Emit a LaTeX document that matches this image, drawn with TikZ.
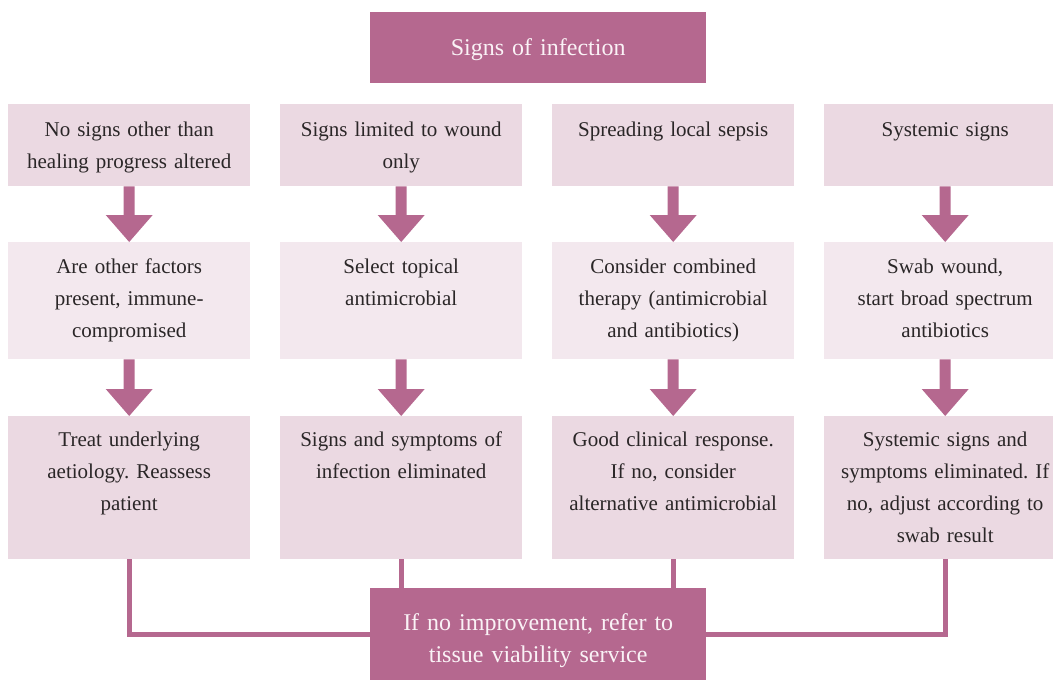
\documentclass[tikz,border=0pt]{standalone}
\usepackage{fontspec}
\setmainfont{Liberation Serif}
\usetikzlibrary{positioning,calc}
\definecolor{dark}{HTML}{B5688F}
\definecolor{lightA}{HTML}{EBD9E2}
\definecolor{lightB}{HTML}{F3E8EE}
\definecolor{ink}{HTML}{2A2627}
\definecolor{paper}{HTML}{FAF2F6}
\frenchspacing
\newcommand\flowarrow[2]{%
  \fill[dark] ($(#1.south)+(-5.5,0)$) -- ($(#1.south)+(5.5,0)$)
    -- ($(#2.north)+(5.5,-27)$) -- ($(#2.north)+(23.5,-27)$)
    -- (#2.north) -- ($(#2.north)+(-23.5,-27)$)
    -- ($(#2.north)+(-5.5,-27)$) -- cycle;}
\begin{document}
\begin{tikzpicture}[x=1pt,y=-1pt,
  cell/.style={rectangle, draw=none, inner sep=0pt, minimum width=242pt, anchor=north west},
  rowA/.style={cell, fill=lightA, minimum height=82pt},
  rowB/.style={cell, fill=lightB, minimum height=117pt},
  rowC/.style={cell, fill=lightA, minimum height=143pt},
  keybox/.style={rectangle, draw=none, fill=dark, inner sep=0pt, minimum width=336pt, anchor=north west},
  body/.style={inner sep=0pt, text width=240pt, align=center, font=\fontsize{21}{32}\selectfont\frenchspacing, text=ink},
  keytext/.style={inner sep=0pt, text width=330pt, align=center, font=\fontsize{24}{32}\selectfont\frenchspacing, text=paper},
  link/.style={draw=dark, line width=5pt, line join=miter}
]
\useasboundingbox (0,0) rectangle (1053,680);

% title
\node[keybox, minimum height=71pt] (top) at (370,12) {};
\node[keytext, below=20.6pt of top.north] (ttop) {\strut Signs of infection};

% row 1
\node[rowA] (r1c1) at (8,104) {};
\node[rowA] (r1c2) at (280,104) {};
\node[rowA] (r1c3) at (552,104) {};
\node[rowA] (r1c4) at (824,104) {};
% row 2
\node[rowB] (r2c1) at (8,242) {};
\node[rowB] (r2c2) at (280,242) {};
\node[rowB] (r2c3) at (552,242) {};
\node[rowB] (r2c4) at (824,242) {};
% row 3
\node[rowC] (r3c1) at (8,416) {};
\node[rowC] (r3c2) at (280,416) {};
\node[rowC] (r3c3) at (552,416) {};
\node[rowC] (r3c4) at (824,416) {};

% texts row 1
\node[body, below=9.6pt of r1c1.north] (t11) {\strut No signs other than\\healing progress altered};
\node[body, below=9.6pt of r1c2.north] (t12) {\strut Signs limited to wound\\only};
\node[body, below=9.6pt of r1c3.north] (t13) {\strut Spreading local sepsis};
\node[body, below=9.6pt of r1c4.north] (t14) {\strut Systemic signs};
% texts row 2
\node[body, below=8.6pt of r2c1.north] (t21) {\strut Are other factors\\present, immune-\\compromised};
\node[body, below=8.6pt of r2c2.north] (t22) {\strut Select topical\\antimicrobial};
\node[body, below=8.6pt of r2c3.north] (t23) {\strut Consider combined\\therapy (antimicrobial\\and antibiotics)};
\node[body, below=8.6pt of r2c4.north] (t24) {\strut Swab wound,\\start broad spectrum\\antibiotics};
% texts row 3
\node[body, below=7.6pt of r3c1.north] (t31) {\strut Treat underlying\\aetiology. Reassess\\patient};
\node[body, below=7.6pt of r3c2.north] (t32) {\strut Signs and symptoms of\\infection eliminated};
\node[body, below=7.6pt of r3c3.north] (t33) {\strut Good clinical response.\\If no, consider\\alternative antimicrobial};
\node[body, below=7.6pt of r3c4.north] (t34) {\strut Systemic signs and\\symptoms eliminated. If\\no, adjust according to\\swab result};

% arrows
\flowarrow{r1c1}{r2c1}
\flowarrow{r1c2}{r2c2}
\flowarrow{r1c3}{r2c3}
\flowarrow{r1c4}{r2c4}
\flowarrow{r2c1}{r3c1}
\flowarrow{r2c2}{r3c2}
\flowarrow{r2c3}{r3c3}
\flowarrow{r2c4}{r3c4}

% bottom box and connectors
\node[keybox, minimum height=92pt] (bot) at (370,588) {};
\draw[link] (r3c1.south) |- (bot.west);
\draw[link] (r3c2.south) -- (r3c2.south |- bot.north);
\draw[link] (r3c3.south) -- (r3c3.south |- bot.north);
\draw[link] (r3c4.south) |- (bot.east);
\node[keytext, below=19.6pt of bot.north] (tbot) {\strut If no improvement, refer to\\tissue viability service};
\end{tikzpicture}
\end{document}
